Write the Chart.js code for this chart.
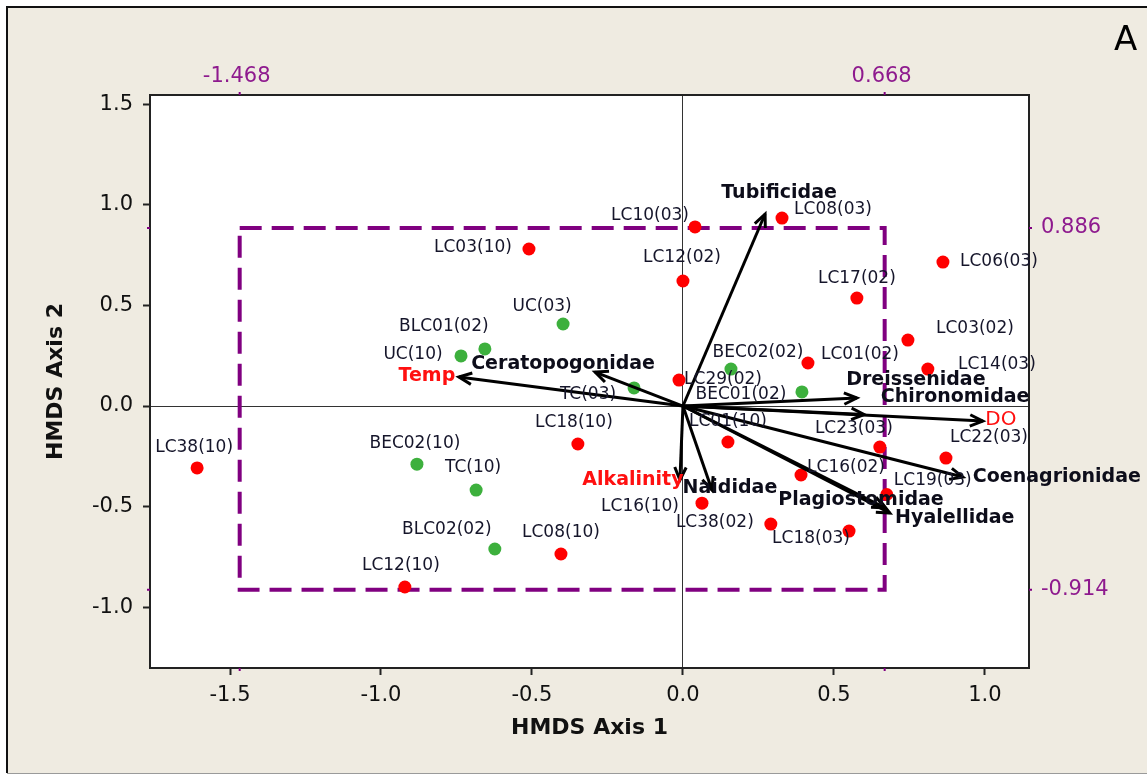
<!DOCTYPE html>
<html>
<head>
<meta charset="utf-8">
<title>HMDS ordination</title>
<script src="https://cdn.jsdelivr.net/npm/chart.js@4.4.1/dist/chart.umd.min.js"></script>
<style>
  html, body { margin: 0; padding: 0; background: #fff; }
  canvas { display: block; }
</style>
</head>
<body>
<canvas id="hmds" width="1147" height="774"></canvas>
<script>
// site scores, red group
const redSites = ['LC10(03)', 'LC08(03)', 'LC03(10)', 'LC12(02)', 'LC06(03)', 'LC17(02)', 'LC03(02)',
  'LC01(02)', 'LC14(03)', 'LC29(02)', 'LC18(10)', 'LC01(10)', 'LC23(03)', 'LC22(03)', 'LC16(02)',
  'LC19(03)', 'LC16(10)', 'LC38(02)', 'LC18(03)', 'LC08(10)', 'LC12(10)', 'LC38(10)'];
const redX = [0.040, 0.328, -0.510, 0.000, 0.861, 0.576, 0.745, 0.414, 0.811, -0.013, -0.348, 0.149,
  0.652, 0.871, 0.391, 0.675, 0.063, 0.291, 0.550, -0.404, -0.921, -1.609];
const redY = [0.891, 0.935, 0.781, 0.622, 0.716, 0.537, 0.328, 0.214, 0.184, 0.129, -0.189, -0.179,
  -0.204, -0.259, -0.343, -0.440, -0.483, -0.587, -0.622, -0.736, -0.900, -0.308];

// site scores, green group
const greenSites = ['UC(03)', 'BLC01(02)', 'UC(10)', 'TC(03)', 'BEC02(02)', 'BEC01(02)', 'BEC02(10)',
  'TC(10)', 'BLC02(02)'];
const greenX = [-0.397, -0.656, -0.735, -0.162, 0.159, 0.394, -0.881, -0.685, -0.623];
const greenY = [0.408, 0.284, 0.249, 0.090, 0.184, 0.070, -0.289, -0.418, -0.711];

// fitted vectors (taxa and environmental variables)
const vectorNames = ['Tubificidae', 'Temp', 'Ceratopogonidae', 'Dreissenidae', 'Chironomidae', 'DO',
  'Coenagrionidae', 'Plagiostomidae', 'Hyalellidae', 'Naididae', 'Alkalinity'];
const vectorX = [0.272, -0.742, -0.291, 0.576, 0.600, 0.993, 0.927, 0.669, 0.685, 0.096, -0.010];
const vectorY = [0.955, 0.144, 0.169, 0.040, -0.042, -0.075, -0.353, -0.507, -0.532, -0.418, -0.368];
const envVars = ['Temp', 'DO', 'Alkalinity'];

// reference box
const boxX = [-1.468, 0.668];
const boxY = [-0.914, 0.886];

const xTicks = [-1.5, -1.0, -0.5, 0.0, 0.5, 1.0];
const yTicks = [-1.0, -0.5, 0.0, 0.5, 1.0, 1.5];

// label placement, pixel offset of the text centre from its mark
const redLabelPos = [[-45, -11], [51, -8], [-56, -1], [-1, -23], [56, 0], [0, -19], [67, -12], [52, -8],
  [69, -4], [44, -1], [-4, -21], [0, -20], [-26, -18], [43, -21], [45, -7], [46, -14], [-62, 3],
  [-56, -1], [-38, 7], [0, -21], [-4, -21], [-3, -20]];
const greenLabelPos = [[-21, -17], [-41, -22], [-48, -1], [-46, 7], [27, -16], [-61, 3], [-2, -21],
  [-3, -22], [-48, -19]];
const vectorLabelPos = [[14, -21], [-32, -1], [-32, -8], [59, -18], [91, -17], [18, -1], [94, 0],
  [-24, -8], [65, 5], [18, -2], [-47, 0]];

const FONT = 'DejaVu Sans';
const PURPLE = '#800080';
const PURPLE_TEXT = '#8e1a8e';

const pts = (xs, ys) => xs.map((x, i) => ({ x: x, y: ys[i] }));

const arrowSets = vectorNames.map((name, i) => ({
  type: 'line',
  label: name,
  data: [{ x: 0, y: 0 }, { x: vectorX[i], y: vectorY[i] }],
  borderColor: '#000',
  borderWidth: 3,
  pointRadius: 0,
  showLine: true,
  order: 1
}));

function text(ctx, str, x, y, size, color, weight) {
  ctx.font = (weight || 'normal') + ' ' + size + 'px "' + FONT + '"';
  ctx.fillStyle = color;
  ctx.textAlign = 'center';
  ctx.textBaseline = 'middle';
  ctx.fillText(str, x, y);
}

function arrowHead(ctx, x0, y0, x1, y1) {
  const ang = Math.atan2(y1 - y0, x1 - x0);
  const len = 14, spread = 0.42;
  ctx.beginPath();
  ctx.moveTo(x1 - len * Math.cos(ang - spread), y1 - len * Math.sin(ang - spread));
  ctx.lineTo(x1, y1);
  ctx.lineTo(x1 - len * Math.cos(ang + spread), y1 - len * Math.sin(ang + spread));
  ctx.stroke();
}

const frame = {
  id: 'frame',
  beforeDraw(chart) {
    const { ctx, width, height, chartArea: a } = chart;
    ctx.save();
    ctx.fillStyle = '#fff';
    ctx.fillRect(0, 0, width, height);
    ctx.fillStyle = '#efebe1';
    ctx.fillRect(7, 7, width - 7, height - 8);
    ctx.strokeStyle = '#111';
    ctx.lineWidth = 2;
    ctx.beginPath();
    ctx.moveTo(7, height - 1);
    ctx.lineTo(7, 7);
    ctx.lineTo(width, 7);
    ctx.stroke();
    ctx.strokeStyle = '#9a9a9a';
    ctx.lineWidth = 1;
    ctx.beginPath();
    ctx.moveTo(7, height - 0.5);
    ctx.lineTo(width, height - 0.5);
    ctx.stroke();
    ctx.fillStyle = '#fff';
    ctx.fillRect(a.left, a.top, a.right - a.left, a.bottom - a.top);
    ctx.restore();
  },
  afterDatasetsDraw(chart) {
    const { ctx, chartArea: a } = chart;
    const sx = chart.scales.x, sy = chart.scales.y;
    ctx.save();

    // plot border
    ctx.strokeStyle = '#222';
    ctx.lineWidth = 2;
    ctx.strokeRect(a.left, a.top, a.right - a.left, a.bottom - a.top);

    // arrow heads
    const ox = sx.getPixelForValue(0), oy = sy.getPixelForValue(0);
    ctx.strokeStyle = '#000';
    ctx.lineWidth = 3;
    ctx.lineJoin = 'miter';
    vectorNames.forEach((n, i) => {
      arrowHead(ctx, ox, oy, sx.getPixelForValue(vectorX[i]), sy.getPixelForValue(vectorY[i]));
    });

    // site labels
    redSites.forEach((n, i) => {
      text(ctx, n, sx.getPixelForValue(redX[i]) + redLabelPos[i][0],
        sy.getPixelForValue(redY[i]) + redLabelPos[i][1], 17, '#15152a');
    });
    greenSites.forEach((n, i) => {
      text(ctx, n, sx.getPixelForValue(greenX[i]) + greenLabelPos[i][0],
        sy.getPixelForValue(greenY[i]) + greenLabelPos[i][1], 17, '#15152a');
    });

    // vector labels
    vectorNames.forEach((n, i) => {
      const env = envVars.includes(n);
      text(ctx, n, sx.getPixelForValue(vectorX[i]) + vectorLabelPos[i][0],
        sy.getPixelForValue(vectorY[i]) + vectorLabelPos[i][1], n === 'DO' ? 20 : 19,
        env ? '#ff1010' : '#0d0d1a', n === 'DO' ? 'normal' : 'bold');
    });

    // box limits on the frame
    ctx.strokeStyle = PURPLE;
    ctx.lineWidth = 2;
    boxX.forEach(v => {
      const px = sx.getPixelForValue(v);
      ctx.beginPath();
      ctx.moveTo(px, a.top - 3); ctx.lineTo(px, a.top);
      ctx.moveTo(px, a.bottom); ctx.lineTo(px, a.bottom + 3);
      ctx.stroke();
      text(ctx, v.toFixed(3), px - 3, 77, 21, PURPLE_TEXT);
    });
    boxY.forEach(v => {
      const py = sy.getPixelForValue(v);
      ctx.beginPath();
      ctx.moveTo(a.left - 3, py); ctx.lineTo(a.left, py);
      ctx.moveTo(a.right, py); ctx.lineTo(a.right + 3, py);
      ctx.stroke();
      ctx.font = '21px "' + FONT + '"';
      ctx.fillStyle = PURPLE_TEXT;
      ctx.textAlign = 'left';
      ctx.textBaseline = 'middle';
      ctx.fillText(v.toFixed(3), a.right + 12, py);
    });

    // panel letter
    ctx.font = '34px "' + FONT + '"';
    ctx.fillStyle = '#000';
    ctx.textAlign = 'left';
    ctx.textBaseline = 'alphabetic';
    ctx.fillText('A', 1114, 50);
    ctx.restore();
  }
};

new Chart(document.getElementById('hmds'), {
  type: 'scatter',
  data: {
    datasets: [
      {
        type: 'line',
        label: 'box',
        data: [
          { x: boxX[0], y: boxY[1] }, { x: boxX[1], y: boxY[1] },
          { x: boxX[1], y: boxY[0] }, { x: boxX[0], y: boxY[0] }, { x: boxX[0], y: boxY[1] }
        ],
        borderColor: PURPLE,
        borderWidth: 4,
        borderDash: [22, 10],
        borderCapStyle: 'butt',
        pointRadius: 0,
        showLine: true,
        tension: 0,
        order: 3
      },
      {
        label: 'red sites',
        data: pts(redX, redY),
        backgroundColor: '#ff0000',
        borderWidth: 0,
        pointRadius: 6.5,
        order: 2
      },
      {
        label: 'green sites',
        data: pts(greenX, greenY),
        backgroundColor: '#3db03d',
        borderWidth: 0,
        pointRadius: 6.5,
        order: 2
      },
      ...arrowSets
    ]
  },
  options: {
    responsive: false,
    animation: false,
    devicePixelRatio: 1,
    layout: { padding: { top: 95, right: 118, left: 0, bottom: 0 } },
    plugins: { legend: { display: false }, tooltip: { enabled: false } },
    scales: {
      x: {
        type: 'linear',
        min: -1.765,
        max: 1.146,
        afterFit: s => { s.height = 106; },
        afterBuildTicks: s => { s.ticks = xTicks.map(v => ({ value: v })); },
        ticks: {
          callback: v => Number(v).toFixed(1),
          color: '#111',
          font: { family: FONT, size: 21 },
          padding: 8,
          maxRotation: 0
        },
        grid: {
          drawOnChartArea: true,
          color: c => (c.tick && c.tick.value === 0 ? '#333' : 'rgba(0,0,0,0)'),
          lineWidth: 1,
          tickColor: '#222',
          tickLength: 7,
          tickWidth: 2
        },
        border: { display: true, color: '#222', width: 2 },
        title: {
          display: true,
          text: 'HMDS Axis 1',
          color: '#111',
          font: { family: FONT, size: 22, weight: 'bold' },
          padding: { top: 0, bottom: 33 }
        }
      },
      y: {
        type: 'linear',
        min: -1.303,
        max: 1.547,
        afterFit: s => { s.width = 150; },
        afterBuildTicks: s => { s.ticks = yTicks.map(v => ({ value: v })); },
        ticks: {
          callback: v => Number(v).toFixed(1),
          color: '#111',
          font: { family: FONT, size: 21 },
          padding: 10
        },
        grid: {
          drawOnChartArea: true,
          color: c => (c.tick && c.tick.value === 0 ? '#333' : 'rgba(0,0,0,0)'),
          lineWidth: 1,
          tickColor: '#222',
          tickLength: 7,
          tickWidth: 2
        },
        border: { display: true, color: '#222', width: 2 },
        title: {
          display: true,
          text: 'HMDS Axis 2',
          color: '#111',
          font: { family: FONT, size: 22, weight: 'bold' },
          padding: { top: 43, bottom: 0 }
        }
      }
    }
  },
  plugins: [frame]
});
</script>
</body>
</html>
